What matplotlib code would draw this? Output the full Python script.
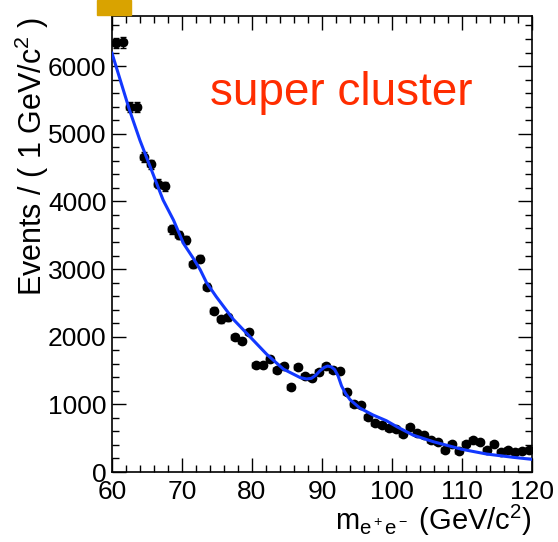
import numpy as np
import matplotlib
matplotlib.use('Agg')
import matplotlib.pyplot as plt
from matplotlib.ticker import MultipleLocator
from matplotlib.patches import Rectangle

# 1 GeV bins, 60-120
bin_lo = 60.0
bin_hi = 120.0
counts = [6340, 6350, 5390, 5390, 4655, 4550, 4260, 4220, 3585, 3500,
          3430, 3070, 3155, 2740, 2385, 2255, 2285, 1990, 1935, 2065,
          1575, 1575, 1670, 1505, 1570, 1260, 1555, 1415, 1385, 1475,
          1565, 1515, 1490, 1185, 1005, 990, 810, 730, 695, 650,
          630, 565, 665, 570, 545, 473, 448, 330, 414, 312,
          410, 473, 448, 325, 414, 300, 330, 292, 305, 325]

# fit curve
fit_mass = [60, 62.5, 64, 65.5, 67.3, 68.8, 70.2, 71.6, 72.6, 73.5, 74.9,
            77.3, 79.7, 82.1, 84.5, 86.9, 87.8, 88.5, 89.1, 89.7, 90.3, 90.8,
            91.3, 91.8, 92.3, 92.8, 93.4, 94.0, 95.4, 97.3, 99.2, 100.7,
            103.0, 105.9, 110.0, 113.5, 117.3, 120]
fit_events = [6190, 5350, 4900, 4500, 4020, 3720, 3380, 3160, 2990, 2800, 2590,
              2260, 2000, 1740, 1520, 1395, 1375, 1385, 1430, 1495, 1545, 1566,
              1555, 1515, 1420, 1270, 1155, 1070, 945, 842, 758, 669,
              546, 448, 335, 266, 217, 187]

label_text = 'super cluster'

centers = np.arange(bin_lo + 0.5, bin_hi, 1.0)
errs = np.sqrt(counts)

plt.rcParams['font.family'] = ['Liberation Sans', 'DejaVu Sans']
plt.rcParams['mathtext.fontset'] = 'custom'
plt.rcParams['mathtext.rm'] = 'Liberation Sans'
plt.rcParams['mathtext.it'] = 'Liberation Sans'

fig = plt.figure(figsize=(5.58, 5.42), dpi=100)
ax = fig.add_axes([112 / 558, 1 - 472 / 542, 420 / 558, 456 / 542])

ax.errorbar(centers, counts, yerr=errs, xerr=0.5, fmt='o', color='black',
            markersize=6, elinewidth=1, capsize=2.5, capthick=1, zorder=3)
ax.plot(fit_mass, fit_events, color='#1238ff', lw=2.2, zorder=4)

ax.set_xlim(bin_lo, bin_hi)
ax.set_ylim(0, 6740)
ax.xaxis.set_major_locator(MultipleLocator(10))
ax.xaxis.set_minor_locator(MultipleLocator(2))
ax.yaxis.set_major_locator(MultipleLocator(1000))
ax.yaxis.set_minor_locator(MultipleLocator(200))
ax.tick_params(which='both', direction='in', top=True, right=True, width=1,
               labelsize=19)
ax.tick_params(which='major', length=10)
ax.tick_params(which='minor', length=5)
ax.tick_params(axis='y', pad=4)
ax.tick_params(axis='x', pad=6)
for s in ax.spines.values():
    s.set_linewidth(1.2)

fig.text(32 / 558, 1 - 17 / 542, r'Events / ( 1 GeV/c$^2$ )', rotation=90,
         ha='center', va='top', fontsize=22)
fig.text(532 / 558, 1 - 530 / 542, r'm$_{\mathregular{e^+e^-}}$ (GeV/c$^2$)',
         ha='right', va='baseline', fontsize=21)
fig.text(210 / 558, 1 - 105 / 542, label_text, color='#ff2d00',
         fontsize=33, ha='left', va='baseline')

fig.patches.append(Rectangle((97 / 558, 1 - 15 / 542), 34 / 558, 15 / 542,
                             transform=fig.transFigure, color='#d9a300'))

plt.savefig('out.png', dpi=100)
